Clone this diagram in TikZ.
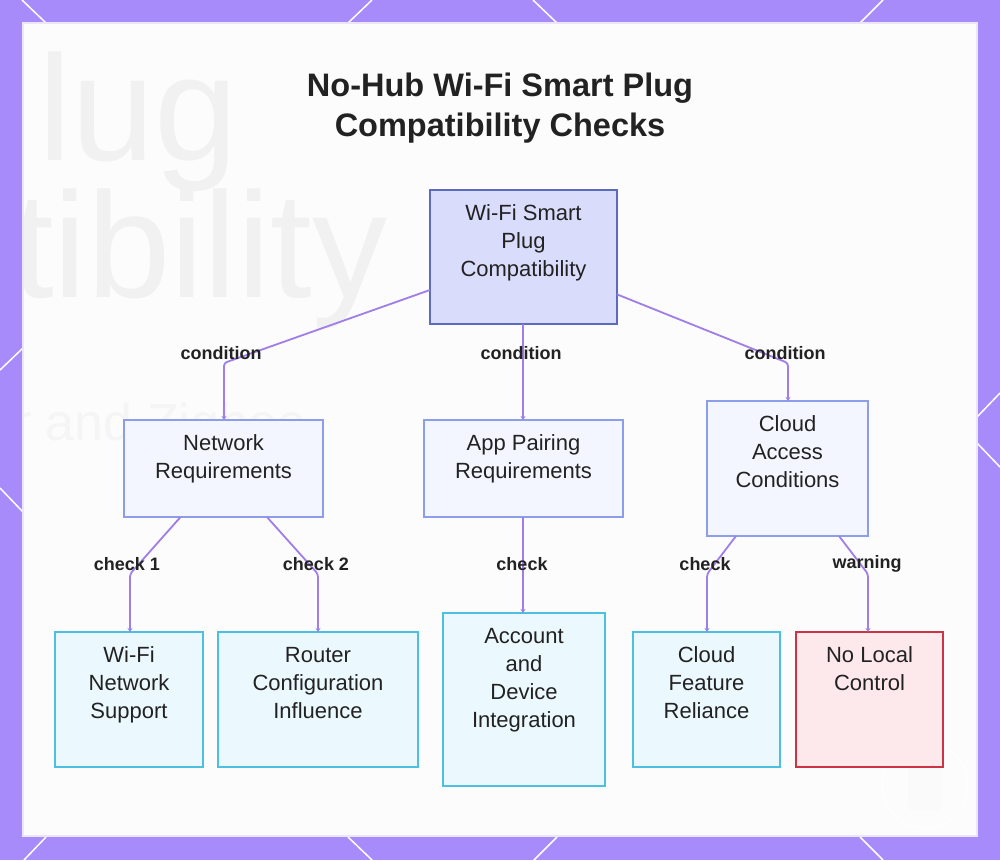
\documentclass[tikz,border=0pt]{standalone}
\usepackage{fontspec}
\setmainfont{Liberation Sans}
\usetikzlibrary{calc,arrows.meta}
\definecolor{bordc}{HTML}{A78BFA}
\definecolor{panelc}{HTML}{FCFCFC}
\definecolor{panelline}{HTML}{ECE6FD}
\definecolor{rootfill}{HTML}{D9DCFB}
\definecolor{rootdraw}{HTML}{5C6BC0}
\definecolor{midfill}{HTML}{F3F6FF}
\definecolor{middraw}{HTML}{8C9EEA}
\definecolor{leaffill}{HTML}{EBF8FE}
\definecolor{leafdraw}{HTML}{4DBFE0}
\definecolor{warnfill}{HTML}{FDE8EC}
\definecolor{warndraw}{HTML}{CC3344}
\definecolor{edgec}{HTML}{A07EE8}
\definecolor{txtc}{HTML}{222222}
\definecolor{ghost}{HTML}{F1F1F1}
\definecolor{ghostb}{HTML}{F5F5F5}
\begin{document}
\begin{tikzpicture}[x=1pt,y=-1pt,
  box/.style={rectangle,inner sep=0pt,outer sep=0pt,line width=1.8pt},
  rootbox/.style={box,fill=rootfill,draw=rootdraw},
  midbox/.style={box,fill=midfill,draw=middraw},
  leafbox/.style={box,fill=leaffill,draw=leafdraw},
  warnbox/.style={box,fill=warnfill,draw=warndraw},
  boxtxt/.style={anchor=north,align=center,inner sep=0pt,text=txtc,font=\fontsize{22}{28}\selectfont},
  lbl/.style={inner sep=0pt,text=txtc,font=\fontsize{18}{20}\selectfont\bfseries},
  edge/.style={draw=edgec,line width=1.8pt,rounded corners=3pt,-{Stealth[length=4pt,width=5pt]}},
  deco/.style={white,line width=1.5pt}]
\useasboundingbox (0,0) rectangle (1000,860);
\fill[bordc] (0,0) rectangle (1000,860);
% decorative border lines
\draw[deco] (22,0)--(46,23) (372,0)--(348,23) (533,0)--(557,23) (883,0)--(860,23);
\draw[deco] (46,837)--(24,860) (348,837)--(372,860) (557,837)--(534,860) (860,837)--(883,860);
\draw[deco] (0,370)--(23,348) (0,488)--(23,512);
\draw[deco] (1000,393)--(977,417) (977,443)--(1000,467);
% panel
\filldraw[fill=panelc,draw=panelline,line width=1.5pt] (23,23) rectangle (977,836);
% faint background
\begin{scope}
\clip (24,24) rectangle (976,835);
\node[anchor=base west,inner sep=0pt,text=ghost,font=\fontsize{150}{150}\selectfont] (bgA) at (38,160) {lug};
\node[anchor=base west,inner sep=0pt,text=ghost,font=\fontsize{150}{150}\selectfont] (bgB) at (12,297) {tibility};
\node[anchor=base west,inner sep=0pt,text=ghostb,font=\fontsize{52}{52}\selectfont] (bgC) at (14,440) {r and Zigbee};
\draw[white,line width=1pt] (925,785) circle (43);
\fill[black!2,rounded corners=4pt] (908,765) rectangle (942,810);
\end{scope}
% title
\node[align=center,inner sep=0pt,text=txtc,font=\fontsize{32.5}{40}\selectfont\bfseries] (title) at (500,108) {No-Hub Wi-Fi Smart Plug\\Compatibility Checks};
% boxes
\node[rootbox,minimum width=187,minimum height=134] (root) at (523.5,257) {};
\node[midbox,minimum width=199,minimum height=97] (net) at (223.5,468.5) {};
\node[midbox,minimum width=199,minimum height=97] (app) at (523.5,468.5) {};
\node[midbox,minimum width=161,minimum height=135] (cloud) at (787.5,468.5) {};
\node[leafbox,minimum width=148,minimum height=135] (wifi) at (129,699.5) {};
\node[leafbox,minimum width=200,minimum height=135] (router) at (318,699.5) {};
\node[leafbox,minimum width=162,minimum height=173] (acct) at (524,699.5) {};
\node[leafbox,minimum width=147,minimum height=135] (cfeat) at (706.5,699.5) {};
\node[warnbox,minimum width=147,minimum height=135] (nolocal) at (869.5,699.5) {};
% box texts
\node[boxtxt] (rootT) at ([yshift=-10.4pt]root.north) {\strut Wi-Fi Smart\\Plug\\Compatibility};
\node[boxtxt] (netT) at ([yshift=-10.4pt]net.north) {\strut Network\\Requirements};
\node[boxtxt] (appT) at ([yshift=-10.4pt]app.north) {\strut App Pairing\\Requirements};
\node[boxtxt] (cloudT) at ([yshift=-10.4pt]cloud.north) {\strut Cloud\\Access\\Conditions};
\node[boxtxt] (wifiT) at ([yshift=-10.4pt]wifi.north) {\strut Wi-Fi\\Network\\Support};
\node[boxtxt] (routerT) at ([yshift=-10.4pt]router.north) {\strut Router\\Configuration\\Influence};
\node[boxtxt] (acctT) at ([yshift=-10.4pt]acct.north) {\strut Account\\and\\Device\\Integration};
\node[boxtxt] (cfeatT) at ([yshift=-10.4pt]cfeat.north) {\strut Cloud\\Feature\\Reliance};
\node[boxtxt] (nolocalT) at ([yshift=-10.4pt]nolocal.north) {\strut No Local\\Control};
% bend points
\coordinate (b1) at (224,363);
\coordinate (b2) at (523,363);
\coordinate (b3) at (788,363);
\coordinate (b4) at (130,574);
\coordinate (b5) at (318,574);
\coordinate (b6) at (523,574);
\coordinate (b7) at (707,574);
\coordinate (b8) at (868,574);
% edges
\draw[edge] (root) -- (b1) -- (b1 |- net.north);
\draw[edge] (b2 |- root.south) -- (b2) -- (b2 |- app.north);
\draw[edge] (root) -- (b3) -- (b3 |- cloud.north);
\draw[edge] (net) -- (b4) -- (b4 |- wifi.north);
\draw[edge] (net) -- (b5) -- (b5 |- router.north);
\draw[edge] (b6 |- app.south) -- (b6) -- (b6 |- acct.north);
\draw[edge] (cloud) -- (b7) -- (b7 |- cfeat.north);
\draw[edge] (cloud) -- (b8) -- (b8 |- nolocal.north);
% labels
\node[lbl] (l1) at (221,353) {condition};
\node[lbl] (l2) at (521,353) {condition};
\node[lbl] (l3) at (785,353) {condition};
\node[lbl] (l4) at (127,564) {check 1};
\node[lbl] (l5) at (316,564) {check 2};
\node[lbl] (l6) at (522,564) {check};
\node[lbl] (l7) at (705,564) {check};
\node[lbl] (l8) at (867,564) {warning};
\end{tikzpicture}
\end{document}
